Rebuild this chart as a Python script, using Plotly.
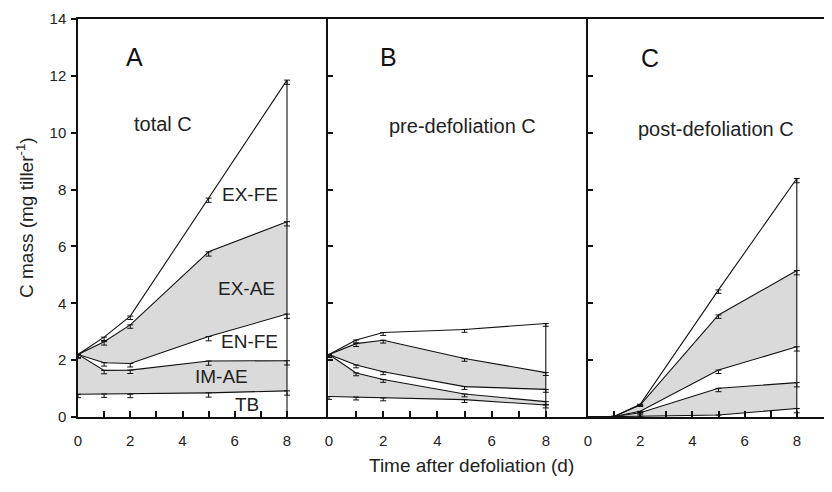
import plotly.graph_objects as go

days = [0, 1, 2, 5, 8]
panel_letters = ["A", "B", "C"]
panel_titles = ["total C", "pre-defoliation C", "post-defoliation C"]
layer_labels = ["TB", "IM-AE", "EN-FE", "EX-AE", "EX-FE"]
x_tick_labels = ["0", "", "2", "", "4", "", "6", "", "8"]
y_tick_values = [0, 2, 4, 6, 8, 10, 12, 14]

# Cumulative C mass (mg tiller-1), bottom layer to top
A_TB = [0.80, 0.81, 0.80, 0.85, 0.92]
A_IMAE = [2.20, 1.64, 1.65, 1.97, 1.98]
A_ENFE = [2.20, 1.91, 1.88, 2.83, 3.62]
A_EXAE = [2.20, 2.65, 3.24, 5.81, 6.87]
A_EXFE = [2.20, 2.81, 3.55, 7.70, 11.85]

B_TB = [0.72, 0.70, 0.67, 0.61, 0.42]
B_IMAE = [2.20, 1.55, 1.32, 0.81, 0.54]
B_ENFE = [2.20, 1.83, 1.59, 1.07, 0.97]
B_EXAE = [2.20, 2.58, 2.70, 2.06, 1.56]
B_EXFE = [2.20, 2.71, 2.97, 3.08, 3.29]

C_TB = [0.00, 0.01, 0.03, 0.07, 0.30]
C_IMAE = [0.00, 0.02, 0.15, 1.01, 1.21]
C_ENFE = [0.00, 0.02, 0.20, 1.65, 2.47]
C_EXAE = [0.00, 0.02, 0.42, 3.59, 5.15]
C_EXFE = [0.00, 0.02, 0.45, 4.47, 8.39]

# standard errors (drawn below each point)
A_ERR = [0.12, 0.12, 0.12, 0.15, 0.15]
B_ERR = [0.10, 0.10, 0.10, 0.10, 0.10]
C_ERR = [0.00, 0.00, 0.05, 0.12, 0.15]

panels = [
    (A_TB, A_IMAE, A_ENFE, A_EXAE, A_EXFE, A_ERR),
    (B_TB, B_IMAE, B_ENFE, B_EXAE, B_EXFE, B_ERR),
    (C_TB, C_IMAE, C_ENFE, C_EXAE, C_EXFE, C_ERR),
]

GREY = "#dadada"
FONT = "Liberation Sans, Arial, Helvetica, sans-serif"

fig = go.Figure()
axis_ids = [("x", "y"), ("x2", "y2"), ("x3", "y3")]
for (tb, imae, enfe, exae, exfe, err), (xa, ya) in zip(panels, axis_ids):
    layers = [tb, imae, enfe, exae, exfe]
    fills = ["tozeroy", "tonexty", "tonexty", "tonexty", "tonexty"]
    fillcolors = ["rgba(0,0,0,0)", GREY, "rgba(0,0,0,0)", GREY, "rgba(0,0,0,0)"]
    for name, vals, fl, fc in zip(layer_labels, layers, fills, fillcolors):
        fig.add_trace(go.Scatter(
            x=days, y=vals, name=name, mode="lines",
            line=dict(color="#111", width=1.1),
            fill=fl, fillcolor=fc,
            error_y=dict(type="data", symmetric=False, array=[0] * len(err),
                         arrayminus=err, color="#111", thickness=1, width=3),
            xaxis=xa, yaxis=ya, showlegend=False,
        ))
    # closing vertical line at the last sampling day
    fig.add_trace(go.Scatter(
        x=[days[-1], days[-1]], y=[0, exfe[-1]], mode="lines",
        line=dict(color="#111", width=1.1), xaxis=xa, yaxis=ya, showlegend=False,
    ))

# the page adds an 8px body margin; lay out in page pixels, offset by 8
OFF = 8
L, R = 78, 832
W = R - L
edges = [78, 328, 588, 832]
zeros = [78, 329, 588]
ppu = [26.125, 27.1, 26.1]
doms = [((edges[i] - L) / W, (edges[i + 1] - L) / W) for i in range(3)]

common_x = dict(
    tickmode="array", tickvals=list(range(9)), ticktext=x_tick_labels,
    ticks="inside", ticklen=6, tickwidth=1.5, tickcolor="#111",
    showline=True, linecolor="#111", linewidth=2, mirror=True,
    showgrid=False, zeroline=False, ticklabelstandoff=9,
    tickfont=dict(family=FONT, size=15, color="#222"),
)
layout = dict()
for i, key in enumerate(["xaxis", "xaxis2", "xaxis3"]):
    lo = (doms[i][0] * W + L - zeros[i]) / ppu[i]
    hi = (doms[i][1] * W + L - zeros[i]) / ppu[i]
    layout[key] = dict(common_x, domain=list(doms[i]), range=[lo, hi],
                       anchor=["y", "y2", "y3"][i])

common_y = dict(range=[0, 14], tickvals=y_tick_values, showline=True,
                linecolor="#111", linewidth=1.5, showgrid=False, zeroline=False,
                tickcolor="#111", tickwidth=1.5, ticklen=5, domain=[0, 1])
layout["yaxis"] = dict(common_y, anchor="x", ticks="outside",
                       tickfont=dict(family=FONT, size=15, color="#222"),
                       ticklabelstandoff=2)
layout["yaxis2"] = dict(common_y, anchor="x2", ticks="inside", showticklabels=False)
layout["yaxis3"] = dict(common_y, anchor="x3", ticks="inside", showticklabels=False)

annotations = []
letter_pos = [(2.18, 12.66), (2.18, 12.66), (2.38, 12.63)]
title_pos = [(3.27, 10.3), (4.93, 10.24), (4.89, 10.13)]
for i in range(3):
    xr, yr = axis_ids[i]
    annotations.append(dict(x=letter_pos[i][0], y=letter_pos[i][1], xref=xr, yref=yr,
                            text=panel_letters[i], showarrow=False,
                            xanchor="center", yanchor="middle",
                            font=dict(family=FONT, size=25, color="#111")))
    annotations.append(dict(x=title_pos[i][0], y=title_pos[i][1], xref=xr, yref=yr,
                            text=panel_titles[i], showarrow=False,
                            xanchor="center", yanchor="middle",
                            font=dict(family=FONT, size=20, color="#222")))

label_pos = {"EX-FE": (6.6, 7.81), "EX-AE": (6.45, 4.52), "EN-FE": (6.58, 2.67),
             "IM-AE": (5.51, 1.41), "TB": (6.47, 0.44)}
for name in layer_labels:
    lx, ly = label_pos[name]
    annotations.append(dict(x=lx, y=ly, xref="x", yref="y", text=name, showarrow=False,
                            xanchor="center", yanchor="middle",
                            font=dict(family=FONT, size=19, color="#222")))

annotations.append(dict(x=(471 - L) / W, y=(417 - 465) / 398, xref="paper", yref="paper",
                        text="Time after defoliation (d)", showarrow=False,
                        xanchor="center", yanchor="middle",
                        font=dict(family=FONT, size=19, color="#222")))
annotations.append(dict(x=(25 - L) / W, y=0.5, xref="paper", yref="paper",
                        text="C mass (mg tiller<sup>-1</sup>)", textangle=-90,
                        xanchor="center", yanchor="middle",
                        showarrow=False, font=dict(family=FONT, size=19, color="#222")))

fig.update_layout(
    **layout,
    annotations=annotations,
    width=832 - OFF, height=492 - OFF,
    margin=dict(l=L - OFF, r=0, t=19 - OFF, b=75),
    paper_bgcolor="white", plot_bgcolor="white",
    showlegend=False,
)

fig.write_html("out.html")
